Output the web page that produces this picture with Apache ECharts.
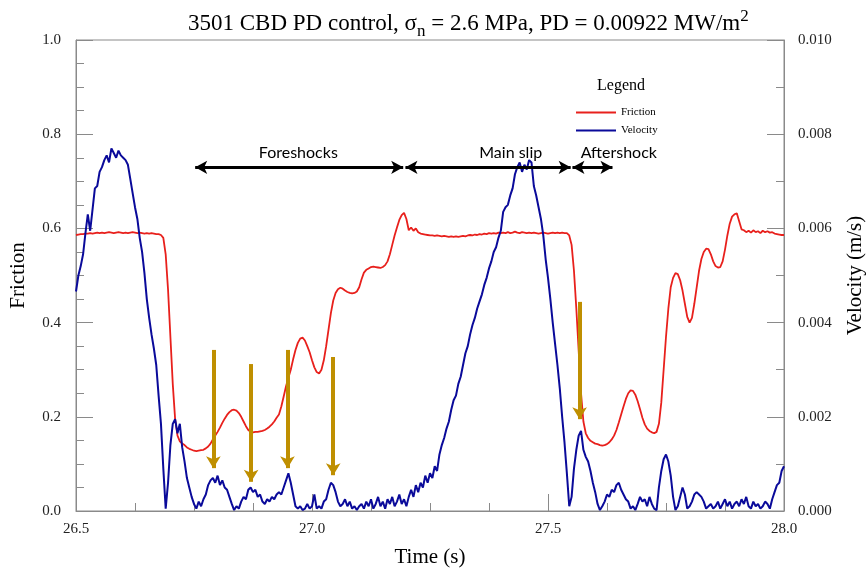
<!DOCTYPE html>
<html><head><meta charset="utf-8">
<script src="https://cdn.jsdelivr.net/npm/echarts@6/dist/echarts.min.js"></script>
<style>html,body{margin:0;padding:0;background:#fff}#c{width:867px;height:573px}</style>
</head><body><div id="c"></div>
<script>
// sample times: start + i*step (s)
const timeStart = 26.5;
const timeStep = 0.005;

// Friction (left axis)
const friction = [
0.586,0.587,0.588,0.588,0.589,0.589,0.590,0.589,0.590,0.591,
0.590,0.591,0.590,0.591,0.592,0.591,0.590,0.591,0.592,0.591,
0.590,0.591,0.590,0.591,0.592,0.591,0.590,0.591,0.590,0.589,
0.590,0.589,0.590,0.589,0.588,0.588,0.586,0.580,0.545,0.470,
0.370,0.270,0.195,0.160,0.148,0.143,0.140,0.135,0.132,0.130,
0.128,0.127,0.128,0.129,0.130,0.133,0.137,0.143,0.152,0.160,
0.168,0.177,0.187,0.196,0.204,0.210,0.214,0.215,0.213,0.208,
0.200,0.190,0.180,0.172,0.168,0.167,0.168,0.168,0.169,0.170,
0.172,0.175,0.179,0.184,0.190,0.198,0.205,0.222,0.243,0.265,
0.283,0.300,0.322,0.342,0.357,0.366,0.368,0.362,0.350,0.337,
0.320,0.305,0.295,0.292,0.300,0.320,0.350,0.385,0.420,0.447,
0.463,0.471,0.474,0.472,0.468,0.465,0.463,0.462,0.463,0.466,
0.475,0.492,0.506,0.512,0.515,0.518,0.519,0.518,0.517,0.516,
0.518,0.522,0.530,0.545,0.565,0.585,0.602,0.618,0.628,0.633,
0.620,0.596,0.602,0.595,0.600,0.592,0.589,0.588,0.587,0.586,
0.585,0.585,0.584,0.585,0.584,0.583,0.584,0.583,0.582,0.583,
0.582,0.583,0.582,0.583,0.584,0.583,0.585,0.586,0.585,0.587,
0.586,0.588,0.587,0.589,0.588,0.590,0.589,0.590,0.589,0.591,
0.590,0.591,0.590,0.592,0.590,0.591,0.593,0.591,0.590,0.592,
0.591,0.590,0.591,0.590,0.591,0.590,0.589,0.590,0.591,0.590,
0.589,0.590,0.591,0.590,0.591,0.590,0.591,0.590,0.590,0.585,
0.565,0.510,0.430,0.340,0.250,0.190,0.165,0.155,0.149,0.146,
0.143,0.142,0.140,0.139,0.140,0.142,0.146,0.152,0.160,0.172,
0.188,0.205,0.222,0.238,0.250,0.256,0.255,0.247,0.233,0.216,
0.198,0.184,0.175,0.170,0.167,0.165,0.168,0.185,0.230,0.300,
0.370,0.430,0.475,0.495,0.505,0.503,0.490,0.468,0.440,0.412,
0.400,0.410,0.440,0.475,0.510,0.535,0.550,0.557,0.556,0.545,
0.530,0.520,0.517,0.518,0.530,0.555,0.585,0.610,0.625,0.630,
0.632,0.615,0.598,0.596,0.592,0.595,0.591,0.596,0.592,0.594,
0.590,0.595,0.592,0.594,0.591,0.592,0.589,0.588,0.587,0.586,
0.586
];

// Velocity (right axis, m/s)
const velocity = [
0.00466,0.00500,0.00520,0.00545,0.00590,0.00630,0.00595,0.00640,0.00685,0.00690,
0.00720,0.00730,0.00745,0.00755,0.00740,0.00770,0.00760,0.00750,0.00765,0.00755,
0.00750,0.00745,0.00735,0.00705,0.00675,0.00645,0.00620,0.00580,0.00550,0.00505,
0.00450,0.00410,0.00375,0.00345,0.00310,0.00245,0.00185,0.00090,0.00005,0.00060,
0.00140,0.00185,0.00195,0.00165,0.00185,0.00135,0.00105,0.00070,0.00050,0.00030,
0.00015,0.00005,0.00020,0.00010,0.00025,0.00035,0.00055,0.00065,0.00070,0.00060,
0.00075,0.00055,0.00065,0.00050,0.00045,0.00030,0.00015,0.00002,0.00010,0.00005,
0.00020,0.00030,0.00025,0.00045,0.00050,0.00040,0.00045,0.00030,0.00035,0.00020,
0.00015,0.00025,0.00020,0.00030,0.00025,0.00035,0.00040,0.00035,0.00050,0.00065,
0.00080,0.00060,0.00035,0.00010,0.00005,0.00010,0.00002,0.00005,0.00015,0.00005,
0.00010,0.00035,0.00005,0.00010,0.00005,0.00020,0.00025,0.00045,0.00060,0.00055,
0.00040,0.00020,0.00010,0.00015,0.00025,0.00010,0.00020,0.00005,0.00010,0.00002,
0.00010,0.00015,0.00005,0.00020,0.00010,0.00025,0.00005,0.00015,0.00030,0.00010,
0.00020,0.00005,0.00025,0.00015,0.00030,0.00010,0.00020,0.00035,0.00015,0.00025,
0.00010,0.00030,0.00045,0.00030,0.00055,0.00040,0.00060,0.00050,0.00075,0.00060,
0.00080,0.00070,0.00095,0.00085,0.00120,0.00140,0.00155,0.00175,0.00190,0.00215,
0.00235,0.00245,0.00270,0.00285,0.00310,0.00335,0.00350,0.00375,0.00395,0.00410,
0.00430,0.00445,0.00460,0.00480,0.00495,0.00515,0.00530,0.00550,0.00560,0.00580,
0.00595,0.00635,0.00645,0.00650,0.00670,0.00685,0.00715,0.00730,0.00740,0.00720,
0.00735,0.00725,0.00745,0.00740,0.00690,0.00670,0.00645,0.00620,0.00585,0.00535,
0.00495,0.00450,0.00400,0.00355,0.00310,0.00260,0.00200,0.00145,0.00080,0.00010,
0.00030,0.00090,0.00130,0.00160,0.00170,0.00130,0.00115,0.00105,0.00085,0.00060,
0.00040,0.00015,0.00002,0.00010,0.00020,0.00035,0.00030,0.00045,0.00040,0.00055,
0.00060,0.00045,0.00035,0.00025,0.00020,0.00005,0.00010,0.00002,0.00015,0.00030,
0.00020,0.00025,0.00010,0.00030,0.00015,0.00005,0.00002,0.00050,0.00085,0.00110,
0.00120,0.00105,0.00075,0.00030,0.00002,0.00010,0.00030,0.00050,0.00035,0.00005,
0.00010,0.00020,0.00035,0.00040,0.00035,0.00030,0.00020,0.00005,0.00010,0.00015,
0.00005,0.00010,0.00020,0.00005,0.00015,0.00025,0.00010,0.00020,0.00005,0.00015,
0.00020,0.00010,0.00025,0.00015,0.00030,0.00010,0.00005,0.00020,0.00010,0.00015,
0.00005,0.00010,0.00020,0.00015,0.00005,0.00025,0.00040,0.00055,0.00060,0.00085,
0.00095
];

// Phase annotations
const phaseNames = ['Foreshocks', 'Main slip', 'Aftershock'];
const phaseStart = [26.7525, 27.198, 27.5518];
const phaseEnd = [27.1932, 27.548, 27.6366];
const phaseLabelTime = [26.971, 27.421, 27.650];
const phaseArrowLevel = 0.7297;   // friction units
const phaseLabelLevel = 0.760;

// Event arrows (gold): time, top, tip (friction units)
const eventTime = [26.791, 26.871, 26.948, 27.045, 27.567];
const eventTop = [0.342, 0.312, 0.342, 0.327, 0.444];
const eventTip = [0.091, 0.062, 0.091, 0.076, 0.195];

const frictionData = friction.map((v, i) => [+(timeStart + i * timeStep).toFixed(4), v]);
const velocityData = velocity.map((v, i) => [+(timeStart + i * timeStep).toFixed(4), v]);

const serif = 'Liberation Serif';
const axisGray = '#8a8a8a';
const labelColor = '#222';

const markLineData = [];
phaseNames.forEach((n, i) => {
  markLineData.push([
    {coord: [phaseStart[i], phaseArrowLevel], symbol: 'arrow', symbolSize: [10, 12],
     lineStyle: {color: '#000', width: 3, type: 'solid'}},
    {coord: [phaseEnd[i], phaseArrowLevel], symbol: 'arrow', symbolSize: [10, 12]}
  ]);
});
eventTime.forEach((t, i) => {
  markLineData.push([
    {coord: [t, eventTop[i]], symbol: 'none', lineStyle: {color: '#BF8F00', width: 4, type: 'solid'}},
    {coord: [t, eventTip[i]], symbol: 'arrow', symbolSize: [11, 12]}
  ]);
});

const tickStyle = {inside: true, length: 17, lineStyle: {color: axisGray}};
const minorStyle = {length: 8, lineStyle: {color: axisGray}};

const chart = echarts.init(document.getElementById('c'), null, {renderer: 'canvas'});
chart.setOption({
  animation: false,
  backgroundColor: '#fff',
  title: [{
    text: '{a|3501 CBD PD control, σ}{sub|n}{a| = 2.6 MPa, PD = 0.00922 MW/m}{sup|2}',
    left: 183, top: 3,
    textStyle: {
      fontWeight: 'normal',
      rich: {
        a: {fontFamily: serif, fontSize: 23, fontWeight: 'normal', color: '#000', lineHeight: 32},
        sub: {fontFamily: serif, fontSize: 17, fontWeight: 'normal', color: '#000', lineHeight: 17, verticalAlign: 'bottom'},
        sup: {fontFamily: serif, fontSize: 17, fontWeight: 'normal', color: '#000', lineHeight: 17, verticalAlign: 'top'}
      }
    }
  }, {
    text: 'Legend', left: 592, top: 73,
    textStyle: {fontFamily: serif, fontSize: 16, fontWeight: 'normal', color: '#000'}
  }],
  legend: {
    data: ['Friction', 'Velocity'],
    orient: 'vertical', left: 571, top: 102,
    icon: 'rect', itemWidth: 40, itemHeight: 2, itemGap: 7,
    textStyle: {fontFamily: serif, fontSize: 11, color: '#000'},
    selectedMode: false
  },
  grid: {left: 76, right: 83, top: 40, bottom: 62, show: true, borderColor: axisGray, borderWidth: 1,
         containLabel: false, outerBoundsMode: 'none'},
  xAxis: {
    type: 'value', min: 26.5, max: 28.0, interval: 0.5,
    name: 'Time (s)', nameLocation: 'middle', nameGap: 36,
    nameTextStyle: {fontFamily: serif, fontSize: 21, color: '#000'},
    axisLine: {lineStyle: {color: axisGray}},
    axisTick: tickStyle,
    minorTick: Object.assign({show: true, splitNumber: 4}, minorStyle),
    splitLine: {show: false},
    axisLabel: {fontFamily: serif, fontSize: 15, color: labelColor, margin: 11, formatter: v => v.toFixed(1)}
  },
  yAxis: [{
    type: 'value', min: 0, max: 1, interval: 0.2,
    name: 'Friction', nameLocation: 'middle', nameGap: 47, nameRotate: 90,
    nameTextStyle: {fontFamily: serif, fontSize: 21, color: '#000'},
    axisLine: {show: true, lineStyle: {color: axisGray}},
    axisTick: Object.assign({show: true}, tickStyle),
    minorTick: Object.assign({show: true, splitNumber: 4}, minorStyle),
    splitLine: {show: false},
    axisLabel: {fontFamily: serif, fontSize: 15, color: labelColor, margin: 15, formatter: v => v.toFixed(1)}
  }, {
    type: 'value', min: 0, max: 0.01, interval: 0.002, position: 'right',
    name: 'Velocity (m/s)', nameLocation: 'middle', nameGap: 61, nameRotate: 90,
    nameTextStyle: {fontFamily: serif, fontSize: 21, color: '#000'},
    axisLine: {show: true, lineStyle: {color: axisGray}},
    axisTick: Object.assign({show: true}, tickStyle),
    minorTick: Object.assign({show: true, splitNumber: 2}, minorStyle),
    splitLine: {show: false},
    axisLabel: {fontFamily: serif, fontSize: 15, color: labelColor, margin: 14, formatter: v => v.toFixed(3)}
  }],
  series: [{
    name: 'Friction', type: 'line', yAxisIndex: 0, data: frictionData,
    showSymbol: false, symbol: 'none', color: '#E8201C',
    lineStyle: {color: '#E8201C', width: 1.8}, z: 2, silent: true
  }, {
    name: 'Velocity', type: 'line', yAxisIndex: 1, data: velocityData,
    showSymbol: false, symbol: 'none', color: '#0A0A9A',
    lineStyle: {color: '#0A0A9A', width: 2}, z: 3, silent: true
  }, {
    name: 'annotations', type: 'line', yAxisIndex: 0, data: [], z: 5, silent: true,
    markLine: {
      silent: true, animation: false,
      label: {show: false},
      lineStyle: {type: 'solid'},
      emphasis: {disabled: true},
      data: markLineData
    },
    markPoint: {
      silent: true, animation: false,
      symbol: 'circle', symbolSize: 0,
      label: {show: true, formatter: p => p.name, fontFamily: 'Lato', fontSize: 16, color: '#000', position: 'inside'},
      data: phaseNames.map((n, i) => ({name: n, coord: [phaseLabelTime[i], phaseLabelLevel]}))
    }
  }]
});
</script>
</body></html>
